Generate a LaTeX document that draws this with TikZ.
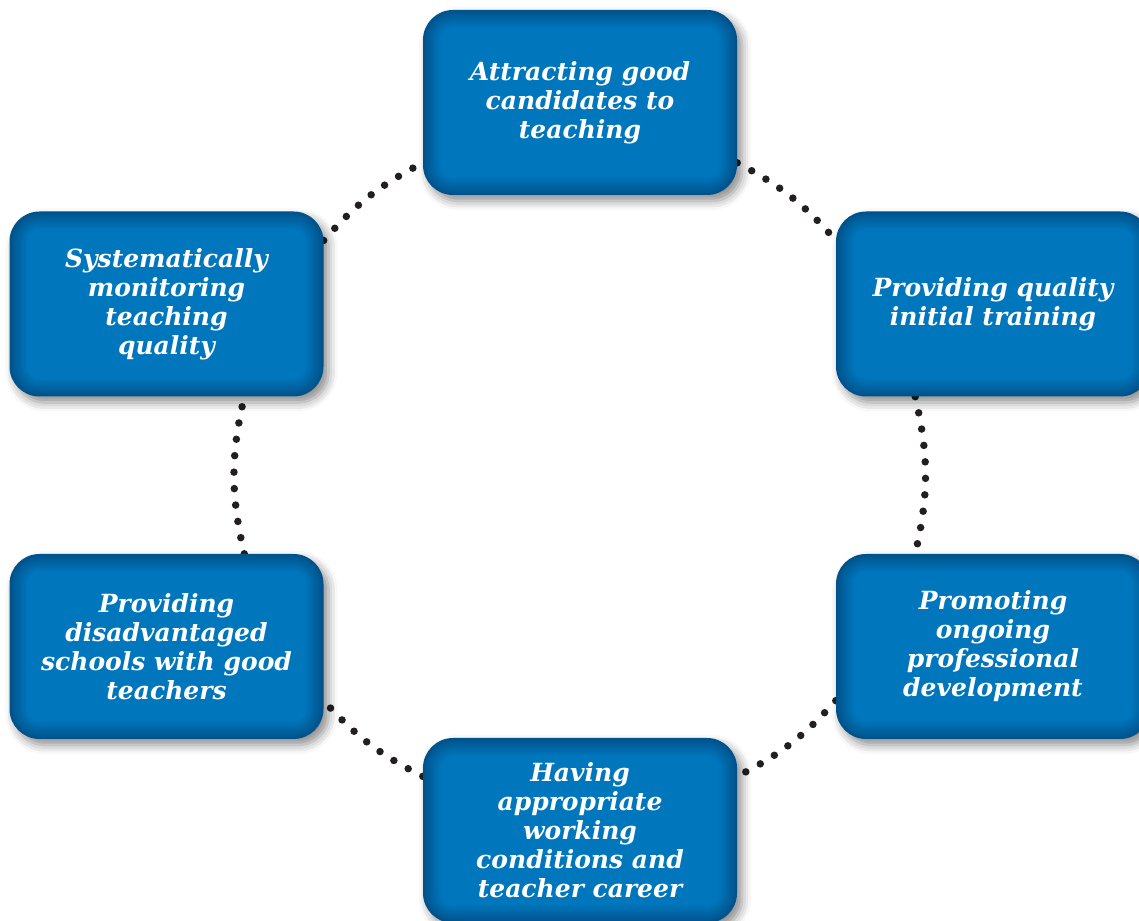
\documentclass[tikz,border=0pt]{standalone}
\usepackage{fontspec}
\setmainfont{DejaVu Serif}
\usetikzlibrary{shadows.blur,backgrounds,calc}
\definecolor{tileedge}{HTML}{00528A}
\definecolor{tilemid}{HTML}{0076BC}
\definecolor{dotink}{HTML}{231F20}
\tikzset{
  tile/.style={rectangle, rounded corners=30pt, minimum width=314pt, minimum height=185pt,
    fill=tileedge, text=white, align=center, inner sep=0pt,
    font=\fontsize{25}{29}\selectfont\bfseries\itshape,
    blur shadow={shadow xshift=5pt, shadow yshift=-6pt, shadow blur radius=9pt, shadow opacity=45},
    path picture={\foreach \i in {1,...,16}{
        \pgfmathsetmacro{\mixpct}{\i*100/16}
        \pgfmathsetmacro{\cornr}{30-\i*1.1}
        \fill[tilemid!\mixpct!tileedge, rounded corners=\cornr pt]
          ($(path picture bounding box.south west)+(\i*1.1pt,\i*1.1pt)$) rectangle
          ($(path picture bounding box.north east)-(\i*1.1pt,\i*1.1pt)$);}}},
  dotline/.style={dotink, line width=7.5pt, line cap=round, dash pattern=on 0pt off 16.5pt}
}

\begin{document}
\begin{tikzpicture}[x=1pt, y=1pt]
\useasboundingbox (0,0) rectangle (1139,920);
\node[tile] (top) at (580,817.5) {Attracting good\\candidates to\\teaching};
\node[tile] (tr) at (993,616) {Providing quality\\initial training};
\node[tile] (br) at (993,273.5) {Promoting\\ongoing\\professional\\development};
\node[tile] (bot) at (580,89.5) {Having\\appropriate\\working\\conditions and\\teacher career};
\node[tile] (bl) at (166.5,273.5) {Providing\\disadvantaged\\schools with good\\teachers};
\node[tile] (tl) at (166.5,616) {Systematically\\monitoring\\teaching\\quality};
\begin{scope}[on background layer]
\draw[dotline] (tl.22) to[bend left=10.5] (top.201);
\draw[dotline] (top.339) to[bend left=10.5] (tr.158);
\draw[dotline] (tr.230) to[bend left=13] (br.130);
\draw[dotline] (br.199) to[bend left=10.5] (bot.19);
\draw[dotline] (bot.161) to[bend left=10.5] (bl.-19);
\draw[dotline] (bl.50) to[bend left=13] (tl.-50);
\end{scope}
\end{tikzpicture}
\end{document}
